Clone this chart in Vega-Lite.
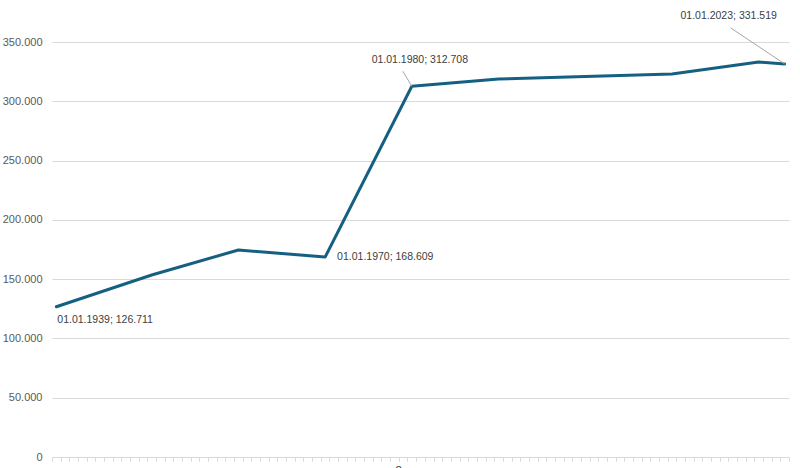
{
  "$schema": "https://vega.github.io/schema/vega-lite/v6.json",
  "width": 737,
  "height": 415,
  "autosize": {"type": "none"},
  "padding": {"left": 52, "top": 42, "right": 11, "bottom": 11},
  "background": "white",
  "config": {
    "view": {"stroke": null},
    "font": "Liberation Sans",
    "locale": {"number": {"decimal": ",", "thousands": ".", "grouping": [3], "currency": ["", " €"]}}
  },
  "data": {
    "values": [
      {"year": 1939, "value": 126711, "label": "01.01.1939; 126.711"},
      {"year": 1950, "value": 153500, "label": ""},
      {"year": 1960, "value": 174600, "label": ""},
      {"year": 1970, "value": 168609, "label": "01.01.1970; 168.609"},
      {"year": 1980, "value": 312708, "label": "01.01.1980; 312.708"},
      {"year": 1990, "value": 318800, "label": ""},
      {"year": 2000, "value": 321000, "label": ""},
      {"year": 2010, "value": 323000, "label": ""},
      {"year": 2020, "value": 333100, "label": ""},
      {"year": 2023, "value": 331519, "label": "01.01.2023; 331.519"}
    ]
  },
  "encoding": {
    "x": {
      "field": "year", "type": "quantitative",
      "scale": {"domain": [1938.5, 2023.5], "nice": false, "zero": false},
      "axis": {
        "values": [1938.5,1939.5,1940.5,1941.5,1942.5,1943.5,1944.5,1945.5,1946.5,1947.5,1948.5,1949.5,1950.5,1951.5,1952.5,1953.5,1954.5,1955.5,1956.5,1957.5,1958.5,1959.5,1960.5,1961.5,1962.5,1963.5,1964.5,1965.5,1966.5,1967.5,1968.5,1969.5,1970.5,1971.5,1972.5,1973.5,1974.5,1975.5,1976.5,1977.5,1978.5,1979.5,1980.5,1981.5,1982.5,1983.5,1984.5,1985.5,1986.5,1987.5,1988.5,1989.5,1990.5,1991.5,1992.5,1993.5,1994.5,1995.5,1996.5,1997.5,1998.5,1999.5,2000.5,2001.5,2002.5,2003.5,2004.5,2005.5,2006.5,2007.5,2008.5,2009.5,2010.5,2011.5,2012.5,2013.5,2014.5,2015.5,2016.5,2017.5,2018.5,2019.5,2020.5,2021.5,2022.5,2023.5],
        "labels": false,
        "grid": false,
        "domainColor": "#d9d9d9",
        "domainWidth": 1,
        "tickColor": "#d9d9d9",
        "tickSize": 4,
        "tickWidth": 1,
        "title": "o",
        "titleX": 346,
        "titleFontSize": 12,
        "titleColor": "#404040",
        "titleFontWeight": "normal",
        "titlePadding": 2
      }
    },
    "y": {
      "field": "value", "type": "quantitative",
      "scale": {"domain": [0, 350000], "nice": false},
      "axis": {
        "values": [0, 50000, 100000, 150000, 200000, 250000, 300000, 350000],
        "format": ",d",
        "title": null,
        "domain": false,
        "ticks": false,
        "gridColor": "#d9d9d9",
        "gridWidth": 1,
        "labelColor": "#595959",
        "labelFontSize": 11,
        "labelPadding": 10
      }
    }
  },
  "layer": [
    {
      "mark": {"type": "line", "color": "#156082", "strokeWidth": 3, "strokeJoin": "round", "strokeCap": "round"}
    },
    {
      "transform": [{"filter": "datum.year == 1980"}],
      "mark": {"type": "rule", "color": "#a6a6a6", "strokeWidth": 1, "x2Offset": -9, "y2Offset": -15},
      "encoding": {"x2": {"field": "year"}, "y2": {"field": "value"}}
    },
    {
      "transform": [{"filter": "datum.year == 2023"}],
      "mark": {"type": "rule", "color": "#a6a6a6", "strokeWidth": 1, "x2Offset": -54, "y2Offset": -36},
      "encoding": {"x2": {"field": "year"}, "y2": {"field": "value"}}
    },
    {
      "transform": [{"filter": "datum.year == 1939"}],
      "mark": {"type": "text", "align": "left", "baseline": "middle", "dx": 1, "dy": 13, "fontSize": 10.5, "color": "#404040"},
      "encoding": {"text": {"field": "label"}}
    },
    {
      "transform": [{"filter": "datum.year == 1970"}],
      "mark": {"type": "text", "align": "left", "baseline": "middle", "dx": 12, "dy": 0, "fontSize": 10.5, "color": "#404040"},
      "encoding": {"text": {"field": "label"}}
    },
    {
      "transform": [{"filter": "datum.year == 1980"}],
      "mark": {"type": "text", "align": "center", "baseline": "middle", "dx": 8, "dy": -26, "fontSize": 10.5, "color": "#404040"},
      "encoding": {"text": {"field": "label"}}
    },
    {
      "transform": [{"filter": "datum.year == 2023"}],
      "mark": {"type": "text", "align": "center", "baseline": "middle", "dx": -56, "dy": -48, "fontSize": 10.5, "color": "#404040"},
      "encoding": {"text": {"field": "label"}}
    }
  ]
}
